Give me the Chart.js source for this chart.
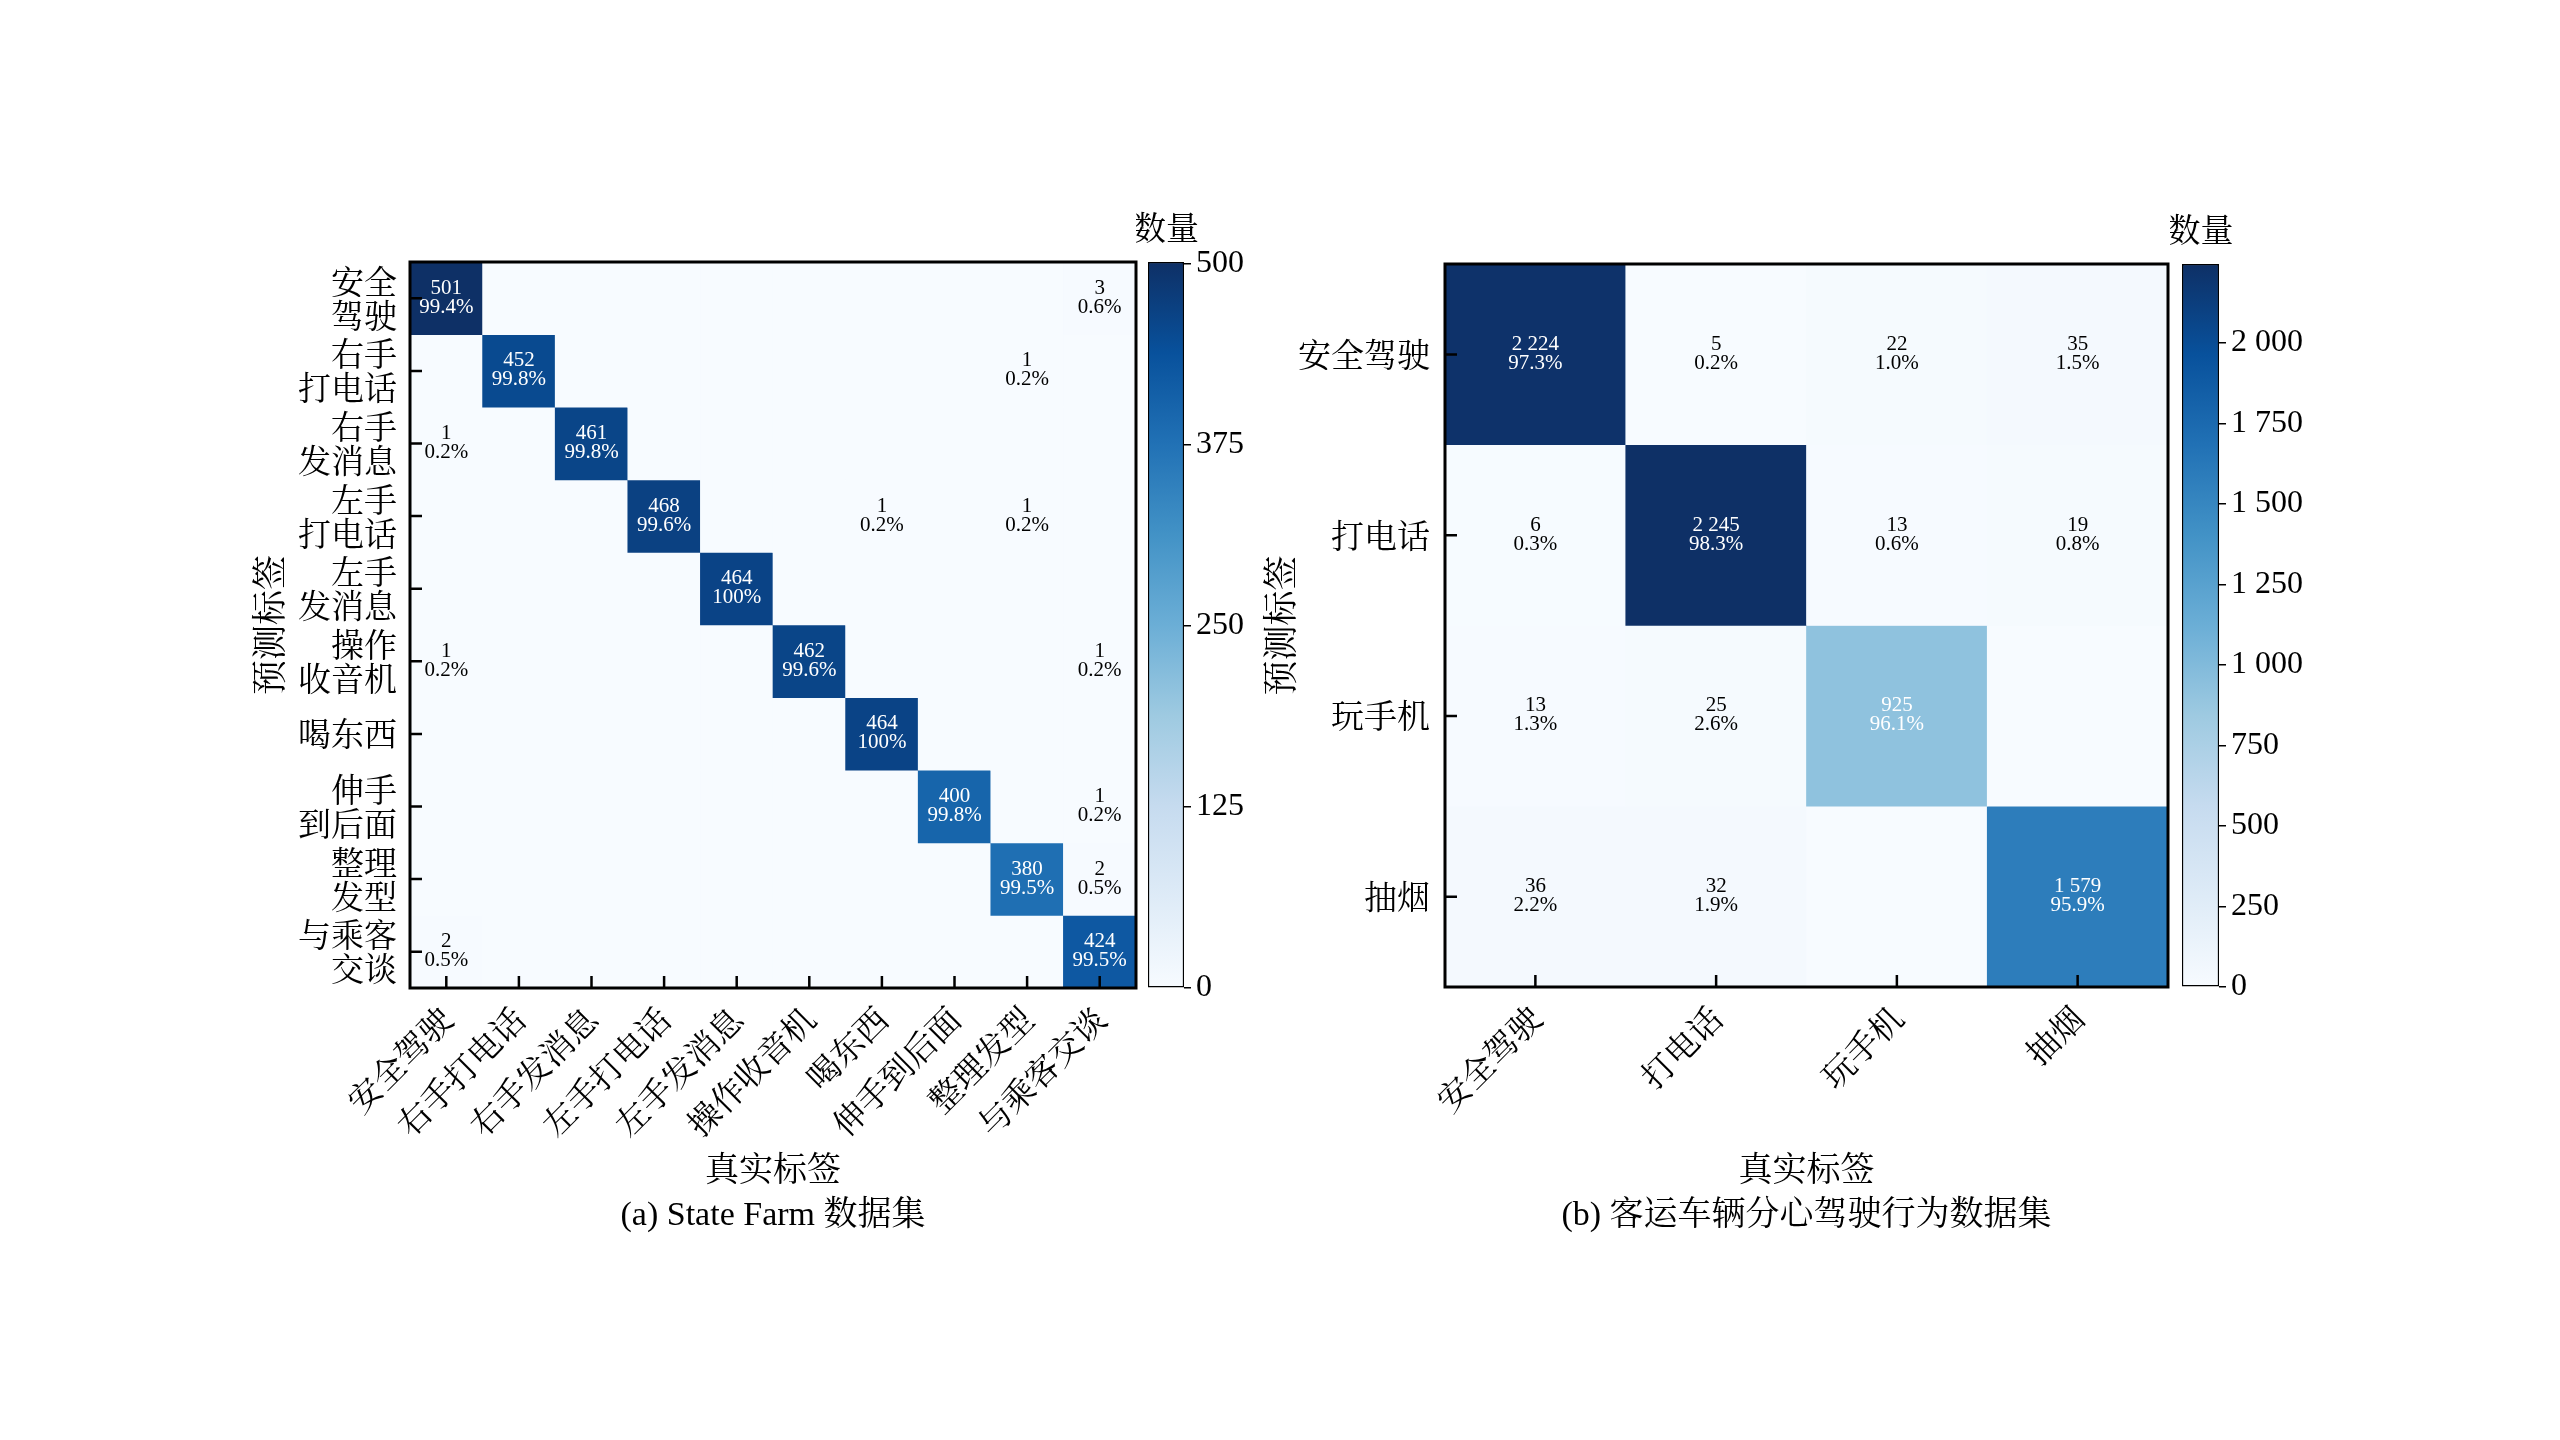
<!DOCTYPE html>
<html>
<head>
<meta charset="utf-8">
<script src="https://cdn.jsdelivr.net/npm/chart.js@4.4.1/dist/chart.umd.min.js"></script>
<style>
html,body{margin:0;padding:0;background:#fff;}
#page{position:relative;width:2560px;height:1440px;background:#fff;overflow:hidden;}
canvas{position:absolute;}
</style>
</head>
<body>
<div id="page">
  <canvas id="matA" width="1146" height="1110" style="left:0px;top:150px"></canvas>
  <canvas id="cbA" width="140" height="870" style="left:1136px;top:150px"></canvas>
  <canvas id="matB" width="978" height="1110" style="left:1200px;top:150px"></canvas>
  <canvas id="cbB" width="140" height="870" style="left:2170px;top:150px"></canvas>
</div>
<script>
// ---------- data ----------
const trueLabelsA = ['安全驾驶','右手打电话','右手发消息','左手打电话','左手发消息','操作收音机','喝东西','伸手到后面','整理发型','与乘客交谈'];
const predLabelsA = [['安全','驾驶'],['右手','打电话'],['右手','发消息'],['左手','打电话'],['左手','发消息'],['操作','收音机'],'喝东西',['伸手','到后面'],['整理','发型'],['与乘客','交谈']];
// rows = predicted label, columns = true label
const countsA = [
  [501,0,0,0,0,0,0,0,0,3],
  [0,452,0,0,0,0,0,0,1,0],
  [1,0,461,0,0,0,0,0,0,0],
  [0,0,0,468,0,0,1,0,1,0],
  [0,0,0,0,464,0,0,0,0,0],
  [1,0,0,0,0,462,0,0,0,1],
  [0,0,0,0,0,0,464,0,0,0],
  [0,0,0,0,0,0,0,400,0,1],
  [0,0,0,0,0,0,0,0,380,2],
  [2,0,0,0,0,0,0,0,0,424]
];
const cbTicksA = [0,125,250,375,500];
const captionA = '(a) State Farm 数据集';

const trueLabelsB = ['安全驾驶','打电话','玩手机','抽烟'];
const predLabelsB = ['安全驾驶','打电话','玩手机','抽烟'];
const countsB = [
  [2224,5,22,35],
  [6,2245,13,19],
  [13,25,925,0],
  [36,32,0,1579]
];
const cbTicksB = [0,250,500,750,1000,1250,1500,1750,2000];
const captionB = '(b) 客运车辆分心驾驶行为数据集';

const xTitle = '真实标签';
const yTitle = '预测标签';
const cbTitle = '数量';

// ---------- style ----------
const SERIF = '"Liberation Serif", "Times New Roman", "Noto Serif CJK SC", "Noto Sans CJK SC", serif';
const CJK = '"Noto Serif CJK SC", "Noto Sans CJK SC", "Liberation Serif", serif';
const BLUES = ['#f7fbff','#deebf7','#c6dbef','#9ecae1','#6baed6','#4292c6','#2171b5','#08519c','#0e3066'];
Chart.defaults.color = '#000';
Chart.defaults.font.family = SERIF;

function hex2rgb(h){return [parseInt(h.slice(1,3),16),parseInt(h.slice(3,5),16),parseInt(h.slice(5,7),16)];}
function blues(t){
  t = Math.max(0, Math.min(1, t));
  const s = t * (BLUES.length - 1);
  const i = Math.min(Math.floor(s), BLUES.length - 2);
  const f = s - i;
  const a = hex2rgb(BLUES[i]), b = hex2rgb(BLUES[i+1]);
  const c = a.map((v,k) => Math.round(v + (b[k]-v)*f));
  return `rgb(${c[0]},${c[1]},${c[2]})`;
}
function fmt(v){
  v = Math.round(v);
  if (v >= 1000) return Math.floor(v/1000) + ' ' + String(v % 1000).padStart(3,'0');
  return String(v);
}

// ---------- confusion matrix ----------
function matrixChart(id, o){
  const vmax = Math.max(...o.counts.flat());
  const datasets = o.counts.map((row, i) => ({
    label: Array.isArray(o.yLabels[i]) ? o.yLabels[i].join('') : o.yLabels[i],
    data: row.map(() => 1),
    counts: row,
    backgroundColor: row.map(v => blues(v / vmax)),
    borderWidth: 0,
    categoryPercentage: 1,
    barPercentage: 1
  }));
  const cellText = {
    id: 'cellText',
    afterDatasetsDraw(chart){
      const c = chart.ctx;
      c.save();
      c.font = `21px ${SERIF}`;
      c.textAlign = 'center';
      c.textBaseline = 'middle';
      chart.data.datasets.forEach((ds, i) => {
        const meta = chart.getDatasetMeta(i);
        const rowSum = ds.counts.reduce((a,b) => a + b, 0);
        meta.data.forEach((bar, j) => {
          const v = ds.counts[j];
          if (!v) return;
          const cx = bar.x, cy = (bar.y + bar.base) / 2;
          const p = v / rowSum * 100;
          const pct = (Math.abs(p - 100) < 1e-9 ? '100' : p.toFixed(1)) + '%';
          c.fillStyle = v / vmax > 0.35 ? '#ffffff' : '#000000';
          c.fillText(fmt(v), cx, cy - 10);
          c.fillText(pct, cx, cy + 9);
        });
      });
      c.restore();
    }
  };
  const frame = {
    id: 'frame',
    afterDraw(chart){
      const {ctx, chartArea: a, scales: {x, y}} = chart;
      ctx.save();
      ctx.strokeStyle = '#000';
      ctx.lineWidth = 2.5;
      ctx.beginPath();
      x.ticks.forEach((t, i) => { const px = x.getPixelForTick(i); ctx.moveTo(px, a.bottom); ctx.lineTo(px, a.bottom - 12); });
      y.ticks.forEach((t, i) => { const py = y.getPixelForTick(i); ctx.moveTo(a.left, py); ctx.lineTo(a.left + 12, py); });
      ctx.stroke();
      ctx.lineWidth = 3;
      ctx.strokeRect(a.left, a.top, a.right - a.left, a.bottom - a.top);
      ctx.restore();
    }
  };
  const n = o.yLabels.length;
  return new Chart(document.getElementById(id), {
    type: 'bar',
    data: { labels: o.xLabels, datasets },
    options: {
      responsive: false, animation: false, devicePixelRatio: 1, events: [],
      layout: { padding: o.pad },
      plugins: { legend: { display: false }, tooltip: { enabled: false } },
      scales: {
        x: {
          stacked: true,
          grid: { display: false, drawTicks: false }, border: { display: false },
          ticks: { autoSkip: false, minRotation: 45, maxRotation: 45, padding: 11, color: '#000', font: { family: CJK, size: 33 } },
          title: { display: true, text: [xTitle, o.caption], color: '#000', padding: { top: 0, bottom: 22 }, font: { family: SERIF, size: 34, lineHeight: '44px' } },
          afterFit(s){ s.height = o.xAxisH; }
        },
        y: {
          stacked: true, reverse: true, min: 0, max: n,
          grid: { display: false, drawTicks: false }, border: { display: false },
          afterBuildTicks(s){ s.ticks = o.yLabels.map((l, i) => ({ value: i + 0.5 })); },
          ticks: { autoSkip: false, padding: o.yTickPad, color: '#000', font: { family: CJK, size: 33, lineHeight: '34px' },
                   callback: (v, i) => o.yLabels[i] },
          title: { display: true, text: yTitle, color: '#000', padding: { top: o.yTitlePad, bottom: 0 }, font: { family: CJK, size: 35, lineHeight: 1.2 } },
          afterFit(s){ s.width = o.yAxisW; }
        }
      }
    },
    plugins: [cellText, frame]
  });
}

// ---------- colour bar ----------
function colorbarChart(id, o){
  const vmax = o.vmax;
  const title = {
    id: 'cbTitle',
    afterDraw(chart){
      const {ctx, chartArea: a} = chart;
      ctx.save();
      ctx.font = `33px ${CJK}`;
      ctx.fillStyle = '#000';
      ctx.textAlign = 'center';
      ctx.textBaseline = 'middle';
      ctx.fillText(cbTitle, (a.left + a.right) / 2, a.top - 35);
      ctx.restore();
    }
  };
  return new Chart(document.getElementById(id), {
    type: 'bar',
    data: { labels: [''], datasets: [{
      data: [[0, vmax]],
      backgroundColor(ctx){
        const ch = ctx.chart;
        if (!ch.chartArea) return BLUES[0];
        const ys = ch.scales.y;
        const g = ch.ctx.createLinearGradient(0, ys.getPixelForValue(0), 0, ys.getPixelForValue(vmax));
        BLUES.forEach((c, k) => g.addColorStop(k / (BLUES.length - 1), c));
        return g;
      },
      borderColor: '#000', borderWidth: 1.5, borderSkipped: false,
      categoryPercentage: 1, barPercentage: 1
    }]},
    options: {
      responsive: false, animation: false, devicePixelRatio: 1, events: [],
      layout: { padding: o.pad },
      plugins: { legend: { display: false }, tooltip: { enabled: false } },
      scales: {
        x: { display: false },
        y: {
          position: 'right', min: 0, max: vmax,
          afterBuildTicks(s){ s.ticks = o.ticks.map(v => ({ value: v })); },
          afterFit(s){ s.width = o.axisW; },
          grid: { display: true, drawOnChartArea: false, drawTicks: true, tickLength: 7, color: '#000', lineWidth: 1.5 },
          border: { display: false },
          ticks: { autoSkip: false, padding: 5, color: '#000', font: { family: SERIF, size: 32 }, callback: v => fmt(v) }
        }
      }
    },
    plugins: [title]
  });
}

matrixChart('matA', { xLabels: trueLabelsA, yLabels: predLabelsA, counts: countsA, caption: captionA,
  pad: { left: 230, right: 10, top: 112, bottom: 0 }, yAxisW: 180, xAxisH: 272, yTitlePad: 18, yTickPad: 13 });
colorbarChart('cbA', { vmax: Math.max(...countsA.flat()), ticks: cbTicksA, pad: { left: 12, right: 0, top: 112, bottom: 32 }, axisW: 92 });

matrixChart('matB', { xLabels: trueLabelsB, yLabels: predLabelsB, counts: countsB, caption: captionB,
  pad: { left: 40, right: 10, top: 114, bottom: 0 }, yAxisW: 205, xAxisH: 273, yTitlePad: 19, yTickPad: 15 });
colorbarChart('cbB', { vmax: Math.max(...countsB.flat()), ticks: cbTicksB, pad: { left: 12, right: 0, top: 114, bottom: 33 }, axisW: 91 });
</script>
</body>
</html>
